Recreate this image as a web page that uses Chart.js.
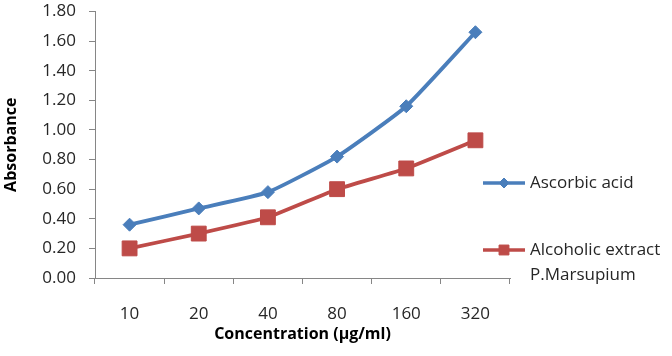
<!DOCTYPE html>
<html>
<head>
<meta charset="utf-8">
<script src="https://cdn.jsdelivr.net/npm/chart.js@4.4.1/dist/chart.umd.min.js"></script>
<style>
  html, body { margin: 0; padding: 0; background: #fff; }
  #wrap { width: 672px; height: 356px; }
</style>
</head>
<body>
<div id="wrap"><canvas id="absorbancia"></canvas></div>
<script>
const concentraciones = ['10', '20', '40', '80', '160', '320']
const ascorbico = [0.36, 0.47, 0.58, 0.82, 1.16, 1.66]
const extracto = [0.20, 0.30, 0.41, 0.60, 0.74, 0.93]
const nombres_series = [['Ascorbic acid'], ['Alcoholic extract', 'P.Marsupium']]

const fuente = "'Open Sans', 'DejaVu Sans', sans-serif"
const azul = '#4a7ebb'
const rojo = '#be4b48'
const gris_eje = '#868686'

// leyenda dibujada a mano, a la derecha y solapando un poco el area
const leyendaManual = {
    id: 'leyendaManual',
    afterDraw(chart) {
        const ctx = chart.ctx
        const filas = [183, 250]
        ctx.save()
        chart.data.datasets.forEach((ds, i) => {
            const y = filas[i]
            ctx.strokeStyle = ds.borderColor
            ctx.lineWidth = 3.5
            ctx.beginPath()
            ctx.moveTo(483, y)
            ctx.lineTo(525, y)
            ctx.stroke()
            ctx.fillStyle = ds.backgroundColor
            ctx.strokeStyle = ds.borderColor
            ctx.lineWidth = 1
            Chart.helpers.drawPoint(ctx, {
                pointStyle: ds.pointStyle,
                radius: i === 0 ? 5 : 7,
                borderWidth: 1
            }, 504, y)
            ctx.fillStyle = '#262626'
            ctx.font = '17px ' + fuente
            ctx.textBaseline = 'middle'
            ctx.textAlign = 'left'
            nombres_series[i].forEach((linea, j) => {
                ctx.fillText(linea, 530, y + j * 25)
            })
        })
        ctx.restore()
    }
}

const grafica = document.getElementById('absorbancia').getContext('2d')

new Chart(grafica, {
    type: 'line',
    data: {
        labels: concentraciones,
        datasets: [{
            label: nombres_series[0].join(' '),
            data: ascorbico,
            borderColor: azul,
            backgroundColor: azul,
            borderWidth: 3.8,
            pointStyle: 'rectRot',
            pointRadius: 6.5,
            pointBorderWidth: 1,
            tension: 0.15,
            clip: false
        }, {
            label: nombres_series[1].join(' '),
            data: extracto,
            borderColor: rojo,
            backgroundColor: rojo,
            borderWidth: 3.8,
            pointStyle: 'rect',
            pointRadius: 10.5,
            pointBorderWidth: 1,
            tension: 0.1,
            clip: false
        }]
    },
    options: {
        responsive: true,
        maintainAspectRatio: false,
        animation: false,
        layout: {
            padding: { left: 0, right: 162, top: 10, bottom: 0 }
        },
        scales: {
            x: {
                type: 'category',
                offset: true,
                grid: {
                    offset: true,
                    drawOnChartArea: false,
                    tickLength: 6,
                    color: gris_eje
                },
                border: { color: gris_eje, width: 1 },
                ticks: {
                    color: '#262626',
                    padding: 20,
                    font: { family: fuente, size: 17 }
                },
                title: {
                    display: true,
                    text: 'Concentration (µg/ml)',
                    color: '#000',
                    font: { family: fuente, size: 16, weight: 'bold' },
                    padding: { top: 0, bottom: 12 }
                },
                afterFit(scale) {
                    scale.height = 78
                    scale.paddingLeft = 0
                    scale.paddingRight = 0
                }
            },
            y: {
                min: 0,
                max: 1.8,
                grid: {
                    drawOnChartArea: false,
                    tickLength: 6,
                    color: gris_eje
                },
                border: { color: gris_eje, width: 1 },
                ticks: {
                    stepSize: 0.2,
                    color: '#262626',
                    padding: 13,
                    font: { family: fuente, size: 17 },
                    callback: (valor) => valor.toFixed(2)
                },
                title: {
                    display: true,
                    text: 'Absorbance',
                    color: '#000',
                    font: { family: fuente, size: 16, weight: 'bold' },
                    padding: { top: 2, bottom: 0 }
                },
                afterFit(scale) {
                    scale.width = 95
                    scale.paddingTop = 0
                    scale.paddingBottom = 0
                }
            }
        },
        plugins: {
            legend: { display: false },
            tooltip: { enabled: false }
        }
    },
    plugins: [leyendaManual]
});
</script>
</body>
</html>
